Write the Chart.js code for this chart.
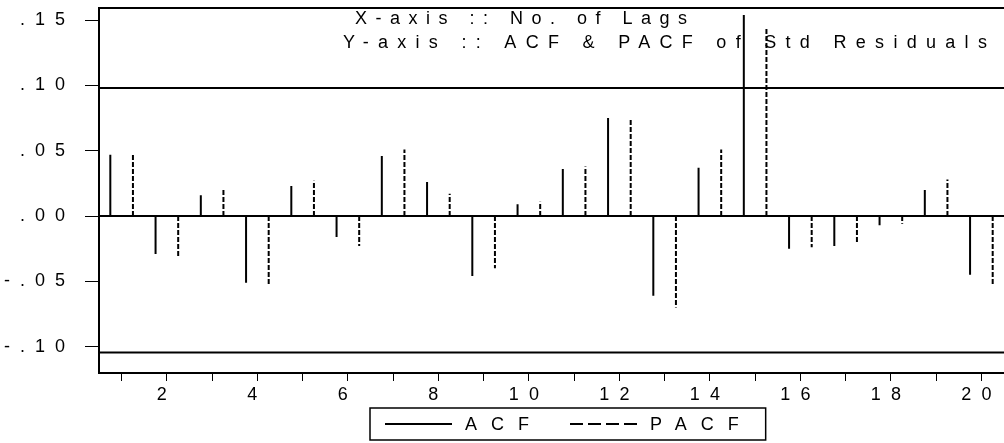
<!DOCTYPE html>
<html>
<head>
<meta charset="utf-8">
<script src="https://cdn.jsdelivr.net/npm/chart.js@4.4.1/dist/chart.umd.min.js"></script>
<style>
  html, body { margin: 0; padding: 0; background: #fff; }
  canvas { display: block; }
</style>
</head>
<body>
<canvas id="acf-chart" width="1004" height="443"></canvas>
<script>
// correlogram of the std residuals, lags 1..20
const lags = [1, 2, 3, 4, 5, 6, 7, 8, 9, 10, 11, 12, 13, 14, 15, 16, 17, 18, 19, 20];
const acf = [0.047, -0.029, 0.016, -0.051, 0.023, -0.016, 0.046, 0.026, -0.046, 0.009,
             0.036, 0.075, -0.061, 0.037, 0.154, -0.025, -0.023, -0.007, 0.020, -0.045];
const pacf = [0.047, -0.031, 0.020, -0.052, 0.027, -0.023, 0.051, 0.017, -0.040, 0.011,
              0.038, 0.074, -0.070, 0.051, 0.144, -0.024, -0.021, -0.006, 0.028, -0.052];
const bandUpper = 0.098;
const bandLower = -0.1045;
const yTicks = [-0.10, -0.05, 0.00, 0.05, 0.10, 0.15];
const xLabels = [2, 4, 6, 8, 10, 12, 14, 16, 18, 20];
const seriesNames = ["ACF", "PACF"];
const noteLines = ["X-axis :: No. of Lags", "Y-axis :: ACF & PACF of Std Residuals"];

const xMin = 0.5, xMax = 20.5;
const yMin = -0.1202, yMax = 0.1593;
const FONT = '18px "Liberation Sans", Arial, sans-serif';

// each spike = (x,0) -> (x,v), then a gap
function spikes(values, shift) {
  const pts = [];
  lags.forEach((lag, i) => {
    pts.push({x: lag + shift, y: 0}, {x: lag + shift, y: values[i]}, {x: lag + shift, y: null});
  });
  return pts;
}

function flatLine(y) {
  return [{x: xMin, y: y}, {x: xMax, y: y}];
}

function fmtY(v) {
  const s = Math.abs(v).toFixed(2).replace(/^0/, '');
  return (v < -1e-9 ? '-' : '') + s;
}

Chart.defaults.font.family = '"Liberation Sans", Arial, sans-serif';
Chart.defaults.font.size = 18;
Chart.defaults.color = '#000';

// wide letter spacing, frame, boxed legend and the axis notes
const eviewsLook = {
  id: 'eviewsLook',
  beforeUpdate(chart) { chart.ctx.letterSpacing = '10px'; },
  beforeDraw(chart) { chart.ctx.letterSpacing = '10px'; },
  afterDraw(chart) {
    const ctx = chart.ctx, a = chart.chartArea;
    ctx.save();
    ctx.strokeStyle = '#000';
    ctx.fillStyle = '#000';
    ctx.lineWidth = 2;
    ctx.beginPath();
    ctx.moveTo(a.right + 2, a.top);
    ctx.lineTo(a.left, a.top);
    ctx.lineTo(a.left, a.bottom);
    ctx.lineTo(a.right + 2, a.bottom);
    ctx.stroke();

    // legend
    ctx.font = FONT;
    ctx.textBaseline = 'middle';
    ctx.textAlign = 'left';
    ctx.letterSpacing = '14px';
    const ly = 424;
    let x = 385;
    seriesNames.forEach((name, i) => {
      const ds = chart.data.datasets[i];
      ctx.lineWidth = 2;
      ctx.setLineDash(ds.borderDash ? [13, 5] : []);
      ctx.beginPath();
      ctx.moveTo(x, ly);
      ctx.lineTo(x + 67, ly);
      ctx.stroke();
      ctx.setLineDash([]);
      x += 80;
      ctx.fillText(name, x, ly + 1);
      x += ctx.measureText(name).width + (i < seriesNames.length - 1 ? 27 : 0);
    });
    ctx.lineWidth = 1.5;
    ctx.strokeRect(370, 408, x + 13 - 370, 32);

    // axis notes
    ctx.letterSpacing = '8.5px';
    ctx.fillText(noteLines[0], 355, 19);
    ctx.letterSpacing = '9.3px';
    ctx.fillText(noteLines[1], 343, 43);
    ctx.restore();
  }
};

new Chart(document.getElementById('acf-chart'), {
  type: 'line',
  data: {
    datasets: [
      {label: seriesNames[0], data: spikes(acf, -0.25), borderColor: '#000', borderWidth: 2, pointRadius: 0, spanGaps: false},
      {label: seriesNames[1], data: spikes(pacf, 0.25), borderColor: '#000', borderWidth: 2, borderDash: [5, 2], pointRadius: 0, spanGaps: false},
      {label: 'zero', data: flatLine(0), borderColor: '#000', borderWidth: 2, pointRadius: 0},
      {label: 'upper', data: flatLine(bandUpper), borderColor: '#000', borderWidth: 2, pointRadius: 0},
      {label: 'lower', data: flatLine(bandLower), borderColor: '#000', borderWidth: 2, pointRadius: 0}
    ]
  },
  options: {
    responsive: false,
    animation: false,
    layout: { padding: { left: 0, right: 0, top: 8, bottom: 38 } },
    plugins: {
      tooltip: { enabled: false },
      title: { display: false },
      legend: { display: false }
    },
    scales: {
      x: {
        type: 'linear',
        min: xMin,
        max: xMax,
        afterBuildTicks(scale) { scale.ticks = lags.map(v => ({value: v})); },
        afterFit(scale) { scale.height = 32; scale.paddingLeft = 0; scale.paddingRight = 0; },
        border: { display: false },
        grid: { drawOnChartArea: false, drawTicks: true, tickLength: 8, tickWidth: 1, tickColor: '#000' },
        ticks: {
          autoSkip: false,
          maxRotation: 0,
          padding: 3,
          color: '#000',
          callback: v => xLabels.includes(v) ? String(v) : ''
        }
      },
      y: {
        type: 'linear',
        min: yMin,
        max: yMax,
        afterBuildTicks(scale) { scale.ticks = yTicks.map(v => ({value: v})); },
        afterFit(scale) { scale.width = 99; scale.paddingTop = 0; scale.paddingBottom = 0; },
        border: { display: false },
        grid: { drawOnChartArea: false, drawTicks: true, tickLength: 14, tickWidth: 1, tickColor: '#000' },
        ticks: { padding: 10, color: '#000', callback: v => fmtY(v) }
      }
    }
  },
  plugins: [eviewsLook]
});
</script>
</body>
</html>
